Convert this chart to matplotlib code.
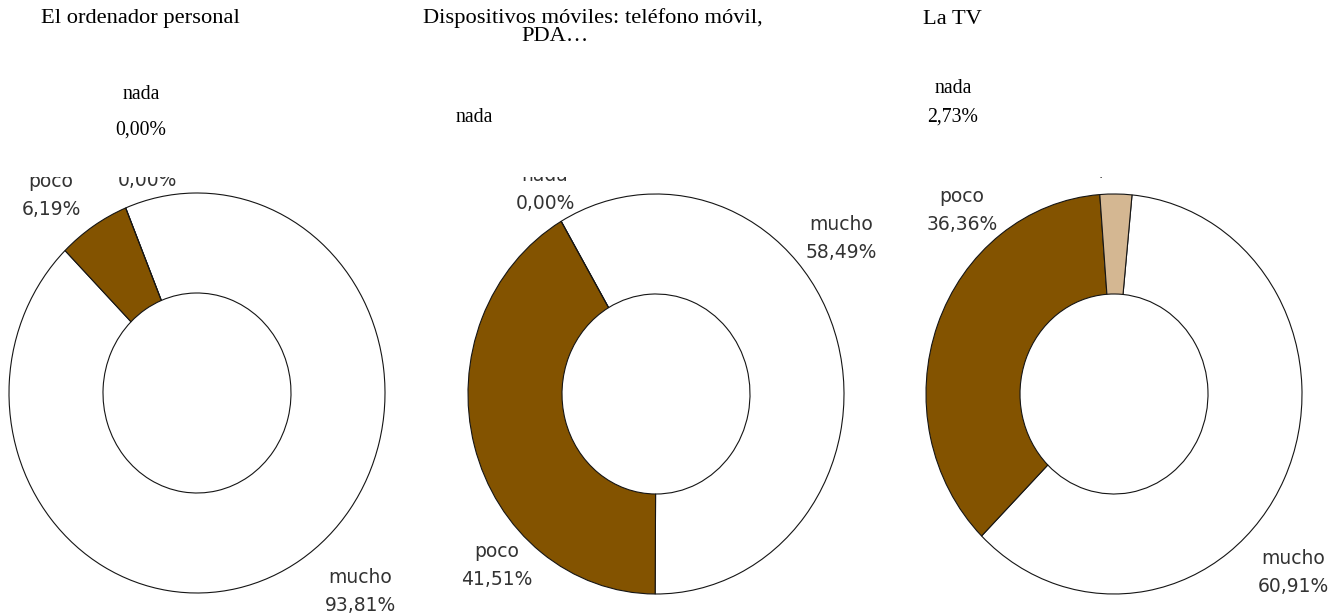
import matplotlib
matplotlib.use("Agg")
import matplotlib.pyplot as plt

# ---- data -------------------------------------------------------------
categories = ["mucho", "poco", "nada"]
ordenador = [93.81, 6.19, 0.00]
moviles = [58.49, 41.51, 0.00]
tv = [60.91, 36.36, 2.73]
series = [ordenador, moviles, tv]

title_first = ["El ordenador personal", "Dispositivos móviles: teléfono móvil,", "La TV"]
title_second = ["", "PDA…", ""]
show_nada_value = [True, False, True]

# ---- styling / layout -------------------------------------------------
slice_colors = ["#FFFFFF", "#835300", "#D4B792"]
W, H = 1342, 613
CLIP_TOP = 177          # plot areas start here (pixels from top)
RX, RY = 188.0, 200.0   # ring radii in pixels (horizontal, vertical)
centers = [(197, 393), (656, 394), (1114, 394)]
rotation = [-22.3, -30.3, 5.5]   # first-slice angle, clockwise from 12 o'clock

# data-label anchors (centre x, baseline y of the name line), pixels
label_pos = [
    {"mucho": (360, 583), "poco": (51, 187), "nada": (147, 158)},
    {"mucho": (841, 230), "poco": (497, 557), "nada": (545, 181)},
    {"mucho": (1293, 564), "poco": (962, 202), "nada": (1117, 148)},
]
LINE_GAP = 28

# serif annotations above each ring: (x centre, baseline) for name / value
nada_note = [((141, 99), (141, 135)), ((474, 122), None), ((953, 93), (953, 122))]

serif = ["Liberation Serif", "DejaVu Serif"]
sans = ["DejaVu Sans"]


def pct(v):
    return f"{v:.2f}%".replace(".", ",")


fig = plt.figure(figsize=(W / 100, H / 100), dpi=100)
fig.patch.set_facecolor("white")

for i, vals in enumerate(series):
    cx, cy = centers[i]
    left, right = cx - 245, cx + 245
    ax = fig.add_axes([left / W, 0, (right - left) / W, (H - CLIP_TOP) / H])
    ax.pie(vals, colors=slice_colors, startangle=90 - rotation[i],
           counterclock=False, radius=1.0,
           wedgeprops=dict(width=0.5, edgecolor="#151515", linewidth=0.8))
    ax.set_aspect("auto")
    ax.set_xlim((left - cx) / RX, (right - cx) / RX)
    ax.set_ylim((cy - H) / RY, (cy - CLIP_TOP) / RY)
    ax.axis("off")

    for name, v in zip(categories, vals):
        px, py = label_pos[i][name]
        for k, s in enumerate([name, pct(v)]):
            ax.text((px - cx) / RX, (cy - (py + k * LINE_GAP)) / RY, s,
                    ha="center", va="baseline", fontsize=13.5,
                    color="#333333", family=sans, clip_on=True)

    # titles
    if title_second[i]:
        fig.text(423 / W, 1 - 23.5 / H, title_first[i], ha="left",
                 va="baseline", fontsize=16.2, family=serif)
        fig.text(555 / W, 1 - 41 / H, title_second[i], ha="center",
                 va="baseline", fontsize=16.2, family=serif)
    else:
        tx = 140.5 if i == 0 else 952
        fig.text(tx / W, 1 - 23.5 / H, title_first[i], ha="center",
                 va="baseline", fontsize=16.2, family=serif)

    # serif note for the "nada" slice
    (nx, ny), vpos = nada_note[i]
    fig.text(nx / W, 1 - ny / H, categories[2], ha="center", va="baseline",
             fontsize=14.2, family=serif)
    if show_nada_value[i] and vpos is not None:
        fig.text(vpos[0] / W, 1 - vpos[1] / H, pct(vals[2]), ha="center",
                 va="baseline", fontsize=14.2, family=serif)

fig.savefig("out.png", dpi=100, facecolor="white")
